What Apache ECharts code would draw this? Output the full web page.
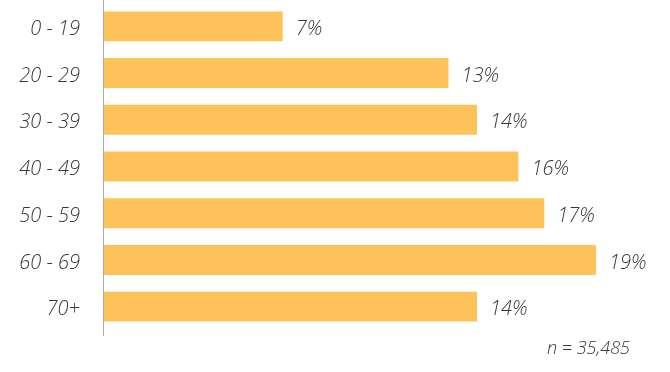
<!DOCTYPE html>
<html><head><meta charset="utf-8">
<script src="https://cdn.jsdelivr.net/npm/echarts@6/dist/echarts.min.js"></script>
<style>html,body{margin:0;padding:0;background:#fff}#c{width:670px;height:372px}</style>
</head><body><div id="c"></div>
<script>
const categories = ['0 - 19','20 - 29','30 - 39','40 - 49','50 - 59','60 - 69','70+'];
const values = [6.9, 13.3, 14.4, 16.0, 17.0, 19.0, 14.4];
const note = 'n = 35,485';

const chart = echarts.init(document.getElementById('c'));
const font = 'Open Sans';
const txt = {fontSize: 20, fontStyle: 'italic', fontWeight: 300, fontFamily: font, color: '#383838'};
chart.setOption({
  animation: false,
  grid: {left: 104, top: 3, height: 327, width: 518},
  xAxis: {type: 'value', min: 0, max: 20, show: false},
  yAxis: {
    type: 'category', data: categories, inverse: true,
    axisLine: {show: false}, axisTick: {show: false},
    axisLabel: Object.assign({margin: 24, formatter: v => '{a|' + v + '}',
      rich: {a: Object.assign({padding: [6, 0, 0, 0]}, txt)}}, txt)
  },
  series: [{
    type: 'bar', data: values, barCategoryGap: '36%',
    itemStyle: {color: '#FDC35A'},
    label: Object.assign({show: true, position: 'right', distance: 13, offset: [0, 3],
      formatter: p => Math.round(p.value) + '%'}, txt)
  }],
  graphic: [
    {type: 'line', shape: {x1: 103.5, y1: 0, x2: 103.5, y2: 336}, style: {stroke: '#aaaaaa', lineWidth: 1}},
    {type: 'text', right: 40, top: 340, style: {text: note, fontSize: 18, fontStyle: 'italic', fontWeight: 300, fontFamily: font, fill: '#383838'}}
  ]
});
</script></body></html>
